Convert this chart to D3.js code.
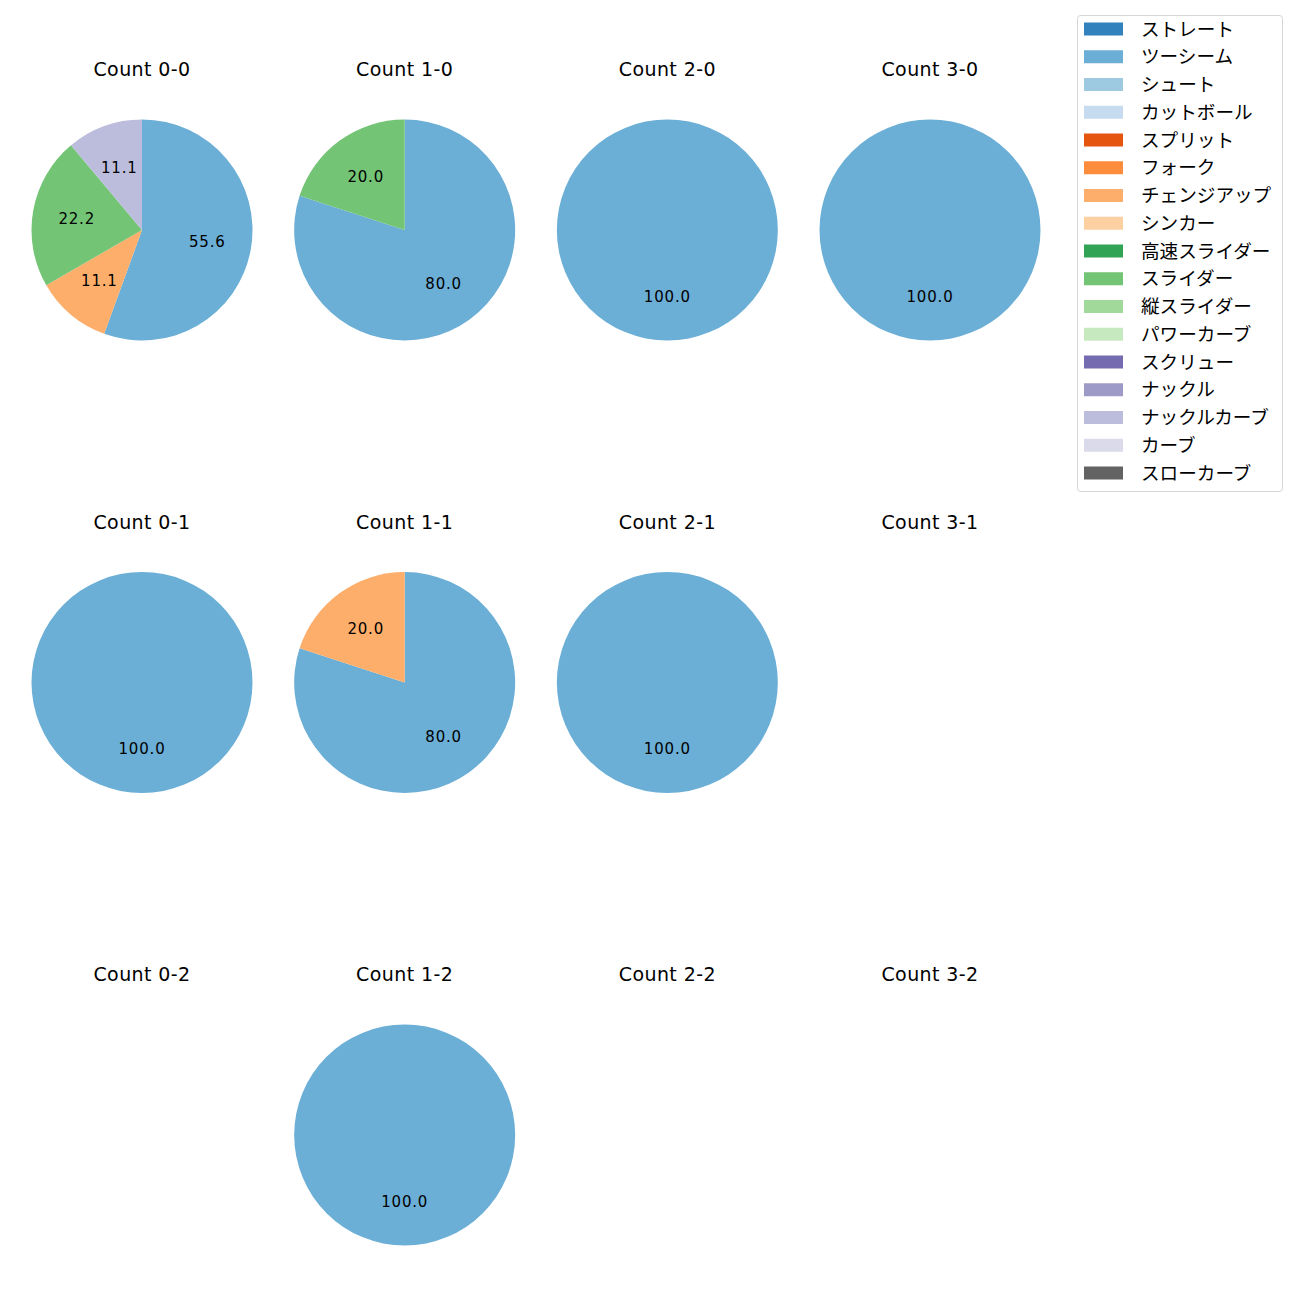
<!DOCTYPE html>
<html><head><meta charset="utf-8">
<script src="https://cdn.jsdelivr.net/npm/d3@7"></script>
<style>body{margin:0;background:#fff}</style>
</head><body>
<script>
const pitchTypes = ["ストレート","ツーシーム","シュート","カットボール","スプリット","フォーク","チェンジアップ","シンカー","高速スライダー","スライダー","縦スライダー","パワーカーブ","スクリュー","ナックル","ナックルカーブ","カーブ","スローカーブ"];
const pitchColors = ["#3182bd","#6baed6","#9ecae1","#c6dbef","#e6550d","#fd8d3c","#fdae6b","#fdd0a2","#31a354","#74c476","#a1d99b","#c7e9c0","#756bb1","#9e9ac8","#bcbddc","#dadaeb","#636363"];
const countTitles = ["Count 0-0","Count 1-0","Count 2-0","Count 3-0","Count 0-1","Count 1-1","Count 2-1","Count 3-1","Count 0-2","Count 1-2","Count 2-2","Count 3-2"];
// counts per pitch type (same order as pitchTypes) for each count situation
const count00 = [0,5,0,0,0,0,1,0,0,2,0,0,0,0,1,0,0];
const count10 = [0,4,0,0,0,0,0,0,0,1,0,0,0,0,0,0,0];
const count20 = [0,1,0,0,0,0,0,0,0,0,0,0,0,0,0,0,0];
const count30 = [0,1,0,0,0,0,0,0,0,0,0,0,0,0,0,0,0];
const count01 = [0,1,0,0,0,0,0,0,0,0,0,0,0,0,0,0,0];
const count11 = [0,4,0,0,0,0,1,0,0,0,0,0,0,0,0,0,0];
const count21 = [0,1,0,0,0,0,0,0,0,0,0,0,0,0,0,0,0];
const count31 = [];
const count02 = [];
const count12 = [0,1,0,0,0,0,0,0,0,0,0,0,0,0,0,0,0];
const count22 = [];
const count32 = [];
const allCounts = [count00,count10,count20,count30,count01,count11,count21,count31,count02,count12,count22,count32];

const W = 1300, H = 1300;
const FONT = "'DejaVu Sans','Noto Sans CJK JP',sans-serif";
const svg = d3.select("body").append("svg").attr("width", W).attr("height", H)
  .style("font-family", FONT);

const colX = d3.scalePoint().domain([0,1,2,3]).range([142, 930]);
const rowY = d3.scalePoint().domain([0,1,2]).range([230, 1135]);
const R = 110.5;
const color = d3.scaleOrdinal().domain(pitchTypes).range(pitchColors);
const pie = d3.pie().sort(null).value(d => d.v).startAngle(0).endAngle(2*Math.PI);
const arc = d3.arc().innerRadius(0).outerRadius(R);
const labelArc = d3.arc().innerRadius(R*0.6).outerRadius(R*0.6);

allCounts.forEach((cnt, i) => {
  const c = i % 4, r = Math.floor(i / 4);
  const cx = colX(c), cy = rowY(r);
  const g = svg.append("g").attr("transform", `translate(${cx},${cy})`);
  g.append("text").attr("x", 0).attr("y", -154).attr("text-anchor", "middle")
    .attr("font-size", 19).attr("letter-spacing", 0.4).attr("fill", "#000").text(countTitles[i]);
  const data = cnt.map((v, k) => ({name: pitchTypes[k], v})).filter(d => d.v > 0);
  const total = d3.sum(data, d => d.v);
  if (!total) return;
  const arcs = pie(data);
  g.selectAll("path").data(arcs).join("path").attr("d", arc).attr("fill", d => color(d.data.name));
  g.selectAll("text.lbl").data(arcs).join("text").attr("class","lbl")
    .attr("transform", d => { const [x,y] = labelArc.centroid(d); return `translate(${x},${y})`; })
    .attr("text-anchor","middle").attr("y", 5.5)
    .attr("font-size", 15).attr("letter-spacing", 0.8).attr("fill","#000")
    .text(d => (d.data.v / total * 100).toFixed(1));
});

// legend
const lg = svg.append("g");
lg.append("rect").attr("x", 1077.5).attr("y", 15.5).attr("width", 205).attr("height", 476)
  .attr("rx", 3).attr("fill", "#fff").attr("stroke", "#d6d6d6");
const ly = d3.scaleLinear().domain([0, pitchTypes.length-1]).range([29, 473]);
pitchTypes.forEach((p, k) => {
  lg.append("rect").attr("x", 1084).attr("y", ly(k)-6.5).attr("width", 39).attr("height", 13).attr("fill", color(p));
  lg.append("text").attr("x", 1141).attr("y", ly(k)).attr("dominant-baseline","central")
    .attr("font-size", 18.6).attr("fill","#000").text(p);
});
</script>
</body></html>
